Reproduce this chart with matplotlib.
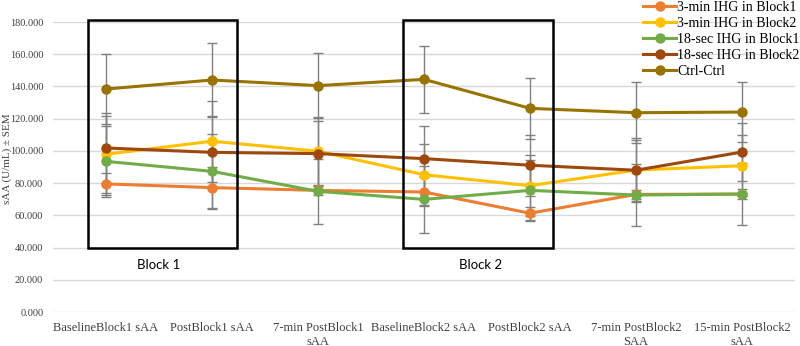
import numpy as np
import matplotlib.pyplot as plt
from matplotlib.patches import Rectangle

# categories on the x axis
labels = ['BaselineBlock1 sAA', 'PostBlock1 sAA', '7-min PostBlock1\nsAA',
          'BaselineBlock2 sAA', 'PostBlock2 sAA', '7-min PostBlock2\nSAA',
          '15-min PostBlock2\nsAA']

# mean values
min3_b1 = [79.5, 77.2, 75.5, 74.5, 61.3, 73.0, 73.2]
min3_b2 = [97.9, 106.0, 99.8, 85.2, 78.4, 88.1, 90.8]
sec18_b1 = [93.5, 87.3, 74.9, 69.9, 75.5, 72.6, 73.2]
sec18_b2 = [101.8, 99.1, 98.3, 95.2, 91.1, 88.0, 99.3]
ctrl = [138.4, 144.0, 140.5, 144.4, 126.4, 123.7, 124.1]

# SEM values (approximate)
min3_b1_err = [7, 13, 3, 9, 4, 3, 3]
min3_b2_err = [24, 25, 21, 19, 19, 20, 19]
sec18_b1_err = [22, 23, 20, 21, 19, 19, 19]
sec18_b2_err = [22, 22.7, 20, 20, 19, 19, 18]
ctrl_err = [22, 23, 20, 21, 19, 19, 18.5]

names = ['3-min IHG in Block1', '3-min IHG in Block2', '18-sec IHG in Block1',
         '18-sec IHG in Block2', 'Ctrl-Ctrl']
colors = ['#ED7D31', '#FFC000', '#70AD47', '#9E480E', '#997300']

series = [min3_b1, min3_b2, sec18_b1, sec18_b2, ctrl]
errs = [min3_b1_err, min3_b2_err, sec18_b1_err, sec18_b2_err, ctrl_err]

fig = plt.figure(figsize=(8, 3.46), dpi=100)
ax = fig.add_axes([53/800, 1-312/346, 742/800, 290/346])

x = np.arange(len(labels))

# error bars first so they sit behind the lines
for s, e in zip(series, errs):
    ax.errorbar(x, s, yerr=e, fmt='none', ecolor='#808080', elinewidth=1,
                capsize=3.5, capthick=1, zorder=2)

handles = []
for s, c, n in zip(series, colors, names):
    h, = ax.plot(x, s, color=c, lw=2.2, marker='o', markersize=6.5, label=n, zorder=3)
    handles.append(h)

ax.set_xlim(-0.5, 6.5)
ax.set_ylim(0, 180)
ax.set_yticks(np.arange(0, 181, 20))
ax.set_yticklabels(['%.3f' % v for v in np.arange(0, 181, 20)])
ax.set_xticks(x)
ax.set_xticklabels(labels)
ax.grid(axis='y', color='#D9D9D9', lw=1)
ax.set_axisbelow(True)
for sp in ax.spines.values():
    sp.set_visible(False)
ax.tick_params(length=0, labelcolor='#404040')
ax.tick_params(axis='y', pad=7, labelsize=7.5)
ax.tick_params(axis='x', pad=7, labelsize=9)
for t in ax.get_xticklabels() + ax.get_yticklabels():
    t.set_family('Liberation Serif')

ax.set_ylabel('sAA (U/mL) ± SEM', family='Liberation Serif', fontsize=8, color='#404040')
ax.yaxis.set_label_coords(-0.0555, 0.53)

# block boxes
ax.add_patch(Rectangle((-0.17, 40), 1.41, 141, fill=False, ec='black', lw=1.8,
                       clip_on=False, zorder=4))
ax.add_patch(Rectangle((2.80, 40), 1.42, 141, fill=False, ec='black', lw=1.8,
                       clip_on=False, zorder=4))
ax.text(0.5, 29, 'Block 1', ha='center', va='center', fontsize=9.5, family='Lato')
ax.text(3.53, 29, 'Block 2', ha='center', va='center', fontsize=9.5, family='Lato')

fig.legend(handles=handles, loc='upper left', bbox_to_anchor=(643/800, 1-1/346),
           bbox_transform=fig.transFigure, frameon=False, borderpad=0,
           borderaxespad=0, handlelength=2.4, handletextpad=0.05,
           labelspacing=0.22, prop={'family': 'Liberation Serif', 'size': 10})

fig.savefig('out.png', dpi=100)
